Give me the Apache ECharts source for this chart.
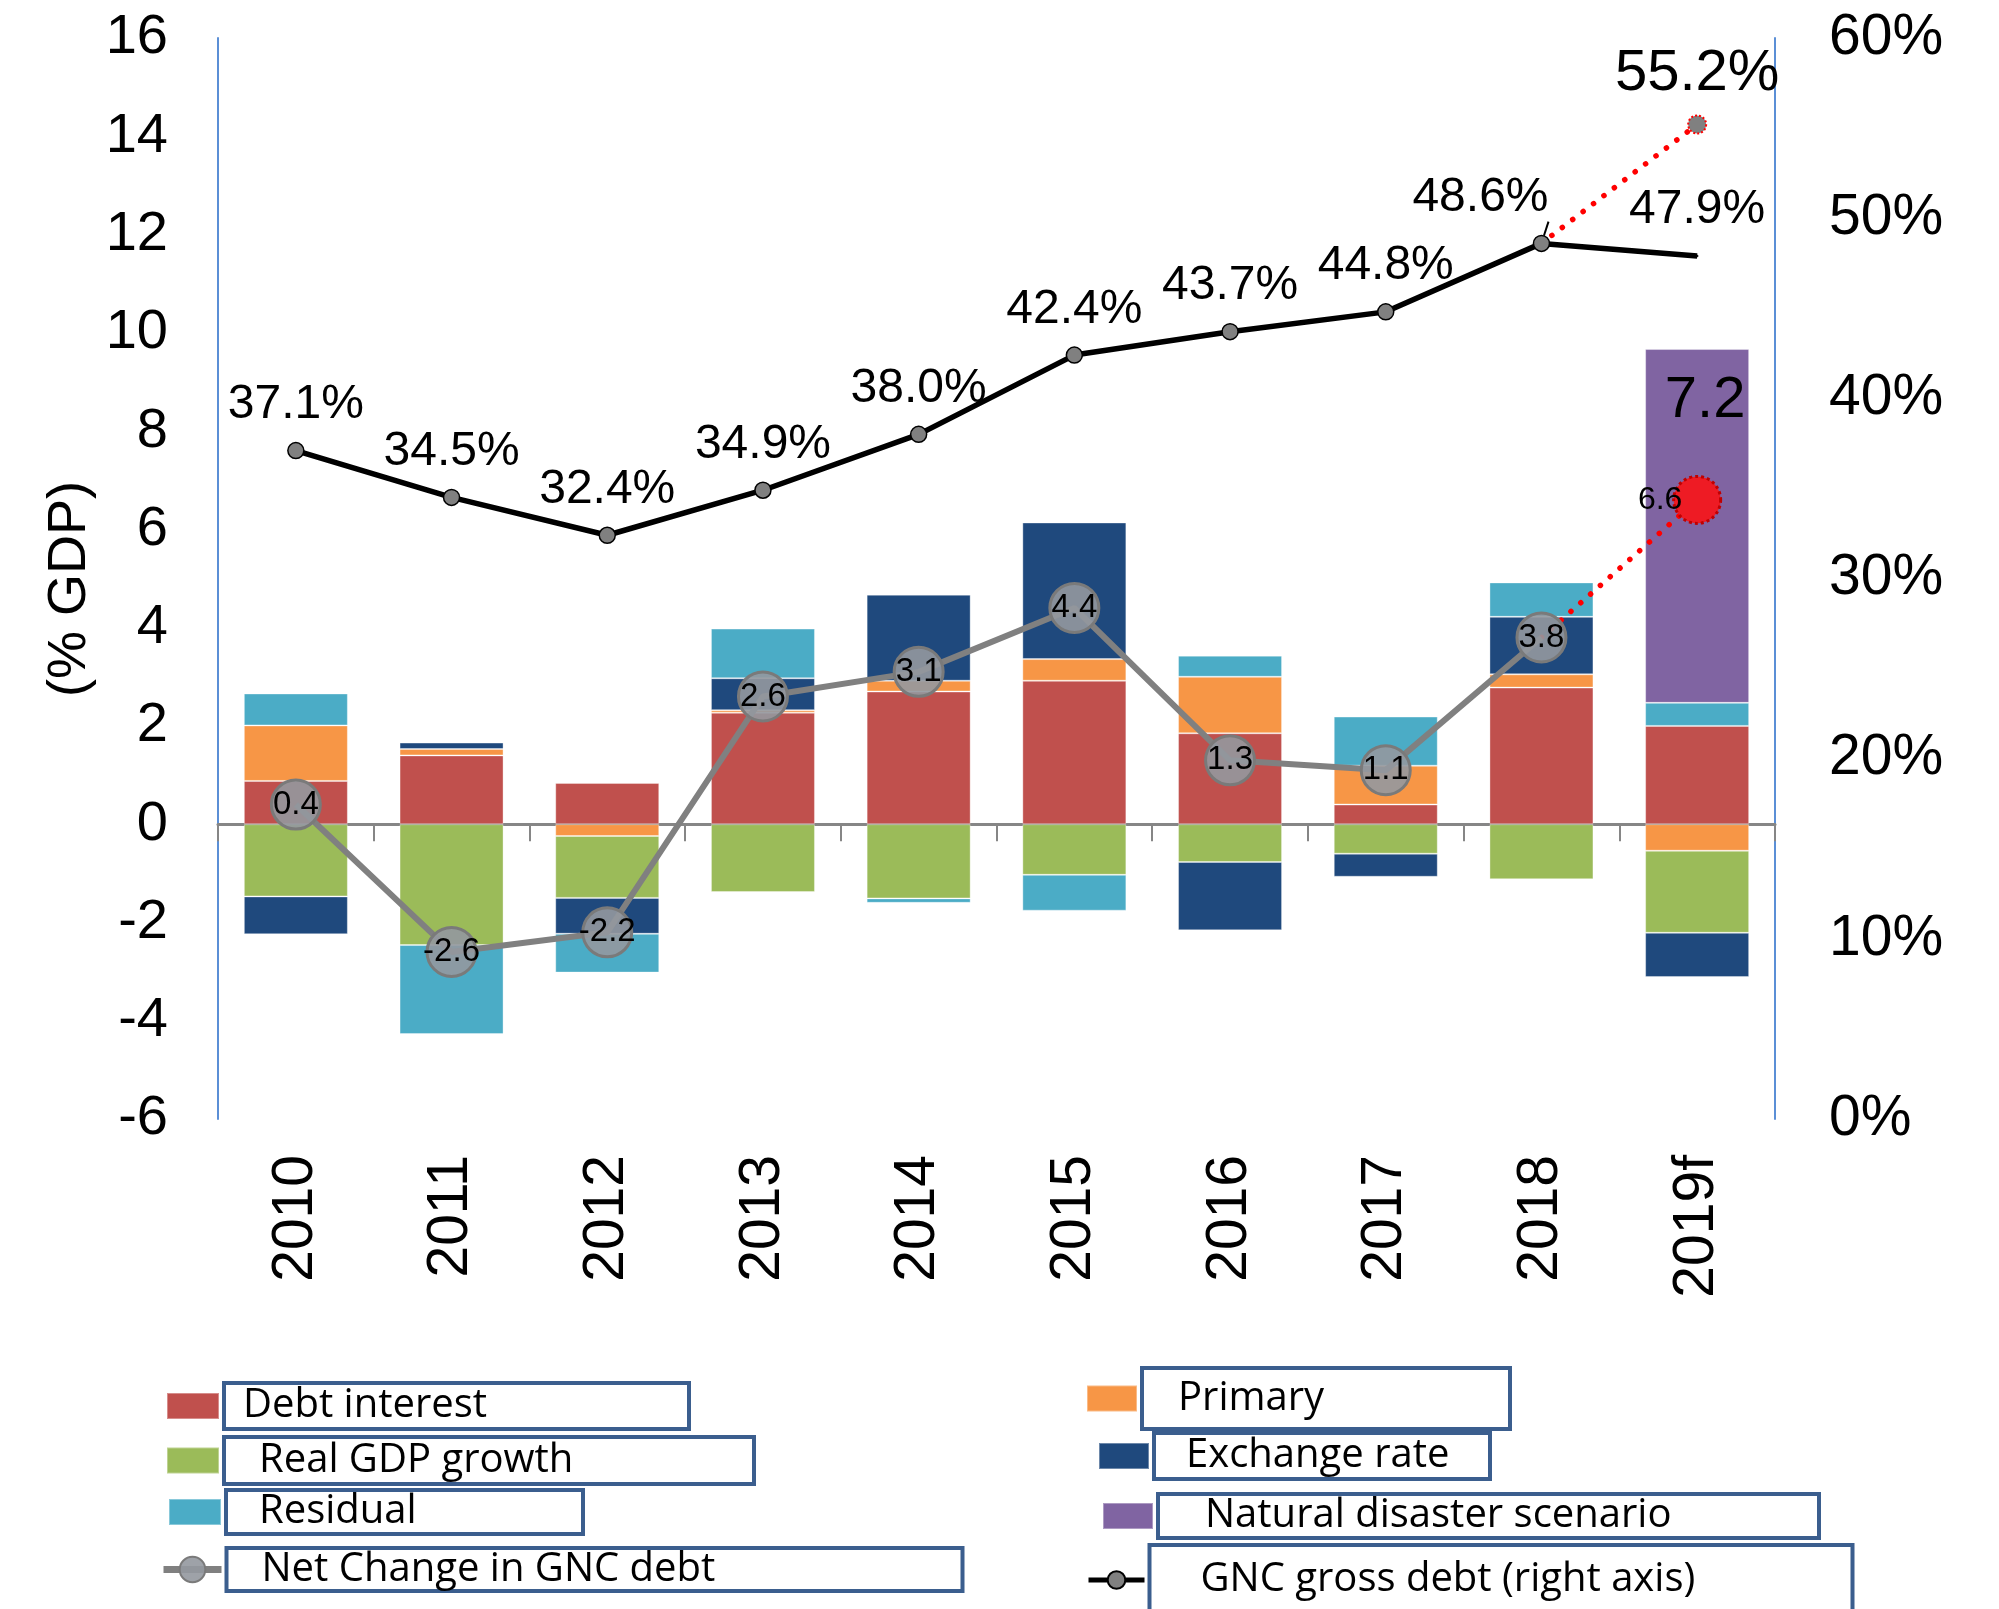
<!DOCTYPE html>
<html><head><meta charset="utf-8">
<script src="https://cdn.jsdelivr.net/npm/echarts@6/dist/echarts.min.js"></script>
<style>html,body{margin:0;padding:0;background:#fff}#c{width:1999px;height:1609px}</style>
</head><body><div id="c"></div>
<script>
// ---- data ----
const years = ['2010','2011','2012','2013','2014','2015','2016','2017','2018','2019f'];
const debtInterest = [0.88, 1.40, 0.84, 2.27, 2.70, 2.92, 1.85, 0.40, 2.78, 2.00];
const primary      = [1.13, 0.13, -0.24, 0.05, 0.22, 0.44, 1.15, 0.79, 0.27, -0.54];
const realGdp      = [-1.47, -2.46, -1.26, -1.38, -1.51, -1.03, -0.77, -0.60, -1.12, -1.67];
const exchangeRate = [-0.77, 0.13, -0.73, 0.65, 1.75, 2.78, -1.39, -0.47, 1.17, -0.90];
const residual     = [0.65, -1.81, -0.79, 1.01, -0.09, -0.73, 0.43, 1.00, 0.70, 0.47];
const naturalDisaster = [null, null, null, null, null, null, null, null, null, 7.2];
const netChange    = [0.4, -2.6, -2.2, 2.6, 3.1, 4.4, 1.3, 1.1, 3.8, null];
const netScenario  = [null, null, null, null, null, null, null, null, 3.8, 6.6];
const gncDebt      = [37.1, 34.5, 32.4, 34.9, 38.0, 42.4, 43.7, 44.8, 48.6, 47.9];
const gncScenario  = [null, null, null, null, null, null, null, null, 48.6, 55.2];
const leftTicks  = {min: -6, max: 16, interval: 2};
const rightTicks = {min: 0, max: 60, interval: 10};

const FONT = '"Liberation Sans", Arial, sans-serif';
const LFONT = '"Open Sans", "Noto Sans", sans-serif';
const C = {red:'#C0504D', orange:'#F79646', green:'#9BBB59', navy:'#1F497D', cyan:'#4BACC6', purple:'#8064A2'};

function bar(name, data, color, extra) {
  return Object.assign({
    type: 'bar', name: name, data: data, stack: 'total', barWidth: 104,
    xAxisIndex: 0, yAxisIndex: 0, z: 2,
    itemStyle: {color: color, borderColor: 'rgba(255,255,255,0.35)', borderWidth: 1}
  }, extra || {});
}
const f1 = p => (p.value == null ? '' : Number(p.value).toFixed(1));
const fp = p => (p.value == null ? '' : Number(p.value).toFixed(1) + '%');

const series = [
  bar('Debt interest', debtInterest, C.red),
  bar('Primary', primary, C.orange),
  bar('Real GDP growth', realGdp, C.green),
  bar('Exchange rate', exchangeRate, C.navy),
  bar('Residual', residual, C.cyan),
  bar('Natural disaster scenario', naturalDisaster, C.purple, {
    label: {show: true, position: 'insideTop', distance: 23, offset: [8, 0], fontSize: 58,
            fontFamily: FONT, color: '#000', formatter: f1}
  }),
  {
    type: 'line', name: 'Net change scenario', yAxisIndex: 0, z: 3,
    data: netScenario.map((v, i) => v == null ? null :
      (i === netScenario.length - 1 ? {value: v, symbolSize: 47, label: {show: true}} : {value: v, symbolSize: 0})),
    symbol: 'circle',
    lineStyle: {color: '#ff0000', width: 5.5, type: [0.1, 13], cap: 'round'},
    itemStyle: {color: '#ee1b24', borderColor: '#c00000', borderWidth: 3, borderType: 'dotted'},
    label: {show: false, position: 'inside', offset: [-37, 0], fontSize: 32, fontFamily: FONT, color: '#000', formatter: f1}
  },
  {
    type: 'line', name: 'Net Change in GNC debt', yAxisIndex: 0, z: 4,
    data: netChange, symbol: 'circle', symbolSize: 49,
    lineStyle: {color: '#808080', width: 6},
    itemStyle: {color: 'rgba(148,152,158,0.9)', borderColor: '#7a7a7a', borderWidth: 3},
    label: {show: true, position: 'inside', fontSize: 33, fontFamily: FONT, color: '#000', formatter: f1}
  },
  {
    type: 'line', name: 'GNC scenario', yAxisIndex: 1, z: 5,
    data: gncScenario.map((v, i) => v == null ? null :
      (i === gncScenario.length - 1 ? {value: v, symbolSize: 18, label: {show: true}} : {value: v, symbolSize: 0})),
    symbol: 'circle',
    lineStyle: {color: '#ff0000', width: 5.5, type: [0.1, 13], cap: 'round'},
    itemStyle: {color: '#808080', borderColor: '#ff0000', borderWidth: 2, borderType: 'dotted'},
    label: {show: false, position: 'top', distance: 11, fontSize: 58, fontFamily: FONT, color: '#000', formatter: fp}
  },
  {
    type: 'line', name: 'GNC gross debt (right axis)', yAxisIndex: 1, z: 6,
    data: gncDebt.map((v, i) => i === 8 ? {value: v, label: {offset: [-61, 0]},
                                            labelLine: {show: true, lineStyle: {color: '#000', width: 2}}} :
      (i === gncDebt.length - 1 ? {value: v, symbolSize: 1, label: {distance: 21}} : v)),
    symbol: 'circle', symbolSize: 16,
    lineStyle: {color: '#000', width: 5.5},
    itemStyle: {color: '#808080', borderColor: '#000', borderWidth: 1.5},
    label: {show: true, position: 'top', distance: 13, fontSize: 48, fontFamily: FONT, color: '#000', formatter: fp}
  }
];

function lg(name, left, top, iw, ih, boxW, pad, extra) {
  return Object.assign({
    show: true, data: [name], left: left, top: top, orient: 'horizontal', padding: 0,
    itemGap: 0, itemWidth: iw, itemHeight: ih, selectedMode: false,
    textStyle: {fontFamily: LFONT, fontSize: 40, lineHeight: 40, color: '#000',
                borderColor: '#3b5e8e', borderWidth: 4, padding: pad,
                width: boxW - pad[1] - pad[3]}
  }, extra || {});
}
const legends = [
  lg('Debt interest', 166, 1381, 52, 26, 465, [3, 0, 3, 19], {icon: 'rect'}),
  lg('Real GDP growth', 166, 1435, 52, 26, 530, [3, 0, 4, 35], {icon: 'rect'}),
  lg('Residual', 168, 1488, 52, 26, 357, [0, 0, 4, 33], {icon: 'rect'}),
  lg('Net Change in GNC debt', 160, 1546, 58, 32, 736, [2, 0, 1, 35], {lineStyle: {width: 7}}),
  lg('Primary', 1086, 1366, 50, 26, 368, [12, 0, 9, 36], {icon: 'rect'}),
  lg('Exchange rate', 1098, 1431, 50, 26, 336, [2, 0, 4, 32], {icon: 'rect'}),
  lg('Natural disaster scenario', 1102, 1492, 50, 26, 661, [2, 0, 2, 47], {icon: 'rect'}),
  lg('GNC gross debt (right axis)', 1086, 1543, 56, 22, 703, [15, 0, 15, 51], {lineStyle: {width: 5}})
];

const chart = echarts.init(document.getElementById('c'), null, {renderer: 'canvas'});
chart.setOption({
  animation: false,
  backgroundColor: '#fff',
  grid: {left: 218, right: 224, top: 38, bottom: 490, containLabel: false, outerBoundsMode: 'none'},
  legend: legends,
  xAxis: [
    {type: 'category', data: years, position: 'bottom', boundaryGap: true,
     axisLine: {show: true, onZero: true, onZeroAxisIndex: 0, lineStyle: {color: '#868686', width: 3}},
     axisTick: {show: true, length: 17, alignWithLabel: false, lineStyle: {color: '#868686', width: 2}},
     axisLabel: {show: false}, splitLine: {show: false}},
    {type: 'category', data: years, position: 'bottom', boundaryGap: true,
     axisLine: {show: false, onZero: false}, axisTick: {show: false}, splitLine: {show: false},
     axisLabel: {show: true, rotate: 90, margin: 36, fontSize: 57, fontFamily: FONT, color: '#000', interval: 0}}
  ],
  yAxis: [
    {type: 'value', position: 'left', min: leftTicks.min, max: leftTicks.max, interval: leftTicks.interval,
     axisLine: {show: true, lineStyle: {color: '#5b8fd6', width: 2}}, axisTick: {show: false},
     splitLine: {show: false},
     axisLabel: {fontSize: 56, fontFamily: FONT, color: '#000', margin: 50, padding: [6, 0, 0, 0]}},
    {type: 'value', position: 'right', min: rightTicks.min, max: rightTicks.max, interval: rightTicks.interval,
     axisLine: {show: true, lineStyle: {color: '#5b8fd6', width: 2}}, axisTick: {show: false},
     splitLine: {show: false},
     axisLabel: {fontSize: 57, fontFamily: FONT, color: '#000', margin: 54, padding: [5, 0, 0, 0], formatter: '{value}%'}}
  ],
  graphic: [
    {type: 'text', x: 70, y: 589, rotation: Math.PI / 2,
     style: {text: '(% GDP)', font: '54px "Liberation Sans", Arial, sans-serif', fill: '#000',
             textAlign: 'center', textVerticalAlign: 'middle'}}
  ],
  series: series
});
</script>
</body></html>
